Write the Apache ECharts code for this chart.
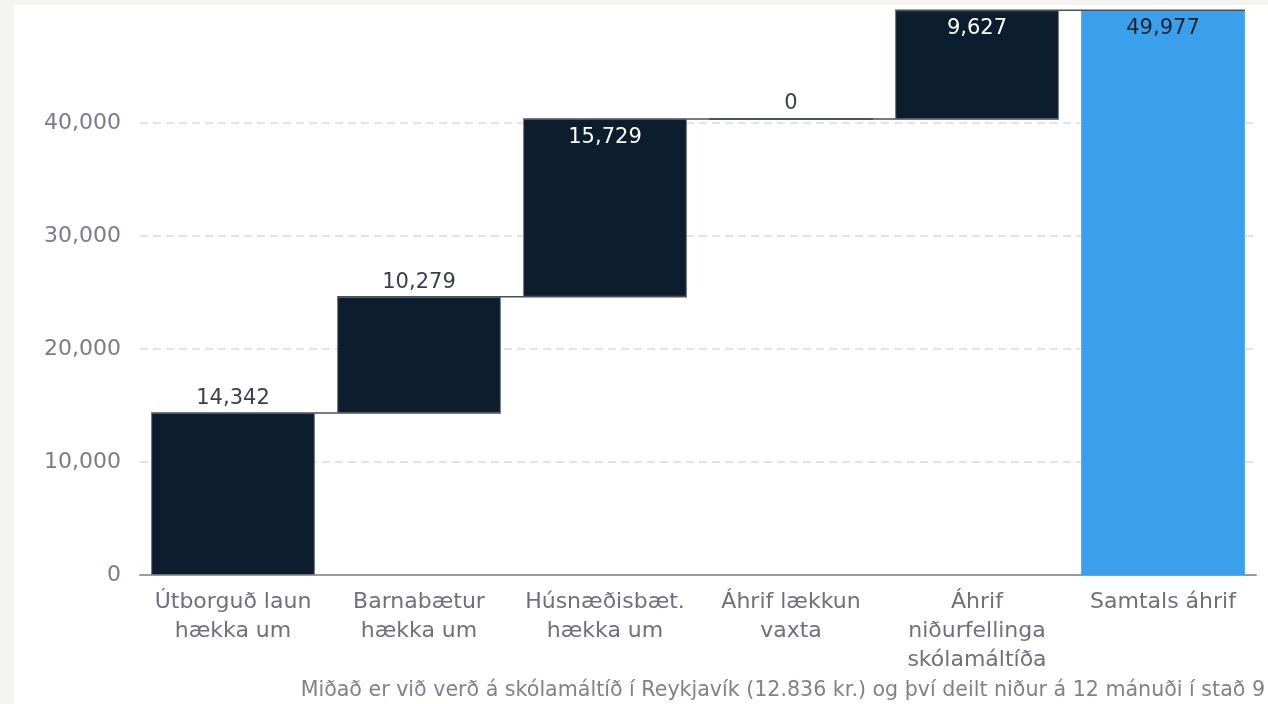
<!DOCTYPE html>
<html>
<head>
<meta charset="utf-8">
<script src="https://cdn.jsdelivr.net/npm/echarts@6/dist/echarts.min.js"></script>
<style>
html,body{margin:0;padding:0;background:#f3f3ef;}
.panel{position:absolute;left:14px;top:5px;right:0;bottom:0;background:#fff;}
#chart{position:absolute;left:0;top:0;width:1268px;height:704px;}
</style>
</head>
<body>
<div class="panel"></div>
<div id="chart"></div>
<script>
// gögn
const categories = ['Útborguð laun\nhækka um', 'Barnabætur\nhækka um', 'Húsnæðisbæt.\nhækka um', 'Áhrif lækkun\nvaxta', 'Áhrif\nniðurfellinga\nskólamáltíða', 'Samtals áhrif']
const steps = [14342, 10279, 15729, 0, 9627]
const total = 49977
const gridTicks = [10000, 20000, 30000, 40000]
const note = 'Miðað er við verð á skólamáltíð í Reykjavík (12.836 kr.) og því deilt niður á 12 mánuði í stað 9'

// uppsöfnun
let base = []
let vals = []
let levels = []
let run = 0
for (let i = 0; i < steps.length; i++) {
  base.push(run)
  vals.push(steps[i])
  run += steps[i]
  levels.push([i, run])
}
base.push(0)
vals.push(total)

const FONT = 'DejaVu Sans'
const insideIdx = [2, 4, 5]
const labelColors = ['#3b3f4a', '#3b3f4a', '#ffffff', '#3b3f4a', '#ffffff', '#1c2230']

let valData = vals.map((v, i) => ({
  value: v,
  itemStyle: i === 5 ? { color: '#3aa0ec', borderWidth: 0 } : {},
  label: {
    position: insideIdx.includes(i) ? 'insideTop' : 'top',
    distance: insideIdx.includes(i) ? 8 : 4,
    color: labelColors[i]
  }
}))

let chart = echarts.init(document.getElementById('chart'))
chart.setOption({
  backgroundColor: 'transparent',
  textStyle: { fontFamily: FONT },
  grid: { left: 140, right: 12, top: 10, bottom: 129 },
  xAxis: {
    type: 'category',
    data: categories,
    axisTick: { show: false },
    axisLine: { lineStyle: { color: '#9a9aa6', width: 2 } },
    axisLabel: { color: '#6f6f80', fontSize: 22, lineHeight: 29, margin: 13, interval: 0, fontFamily: FONT }
  },
  yAxis: {
    type: 'value',
    min: 0,
    max: 50000,
    interval: 10000,
    splitLine: { show: false },
    axisLabel: {
      color: '#7b7b8b', fontSize: 22, margin: 19, showMaxLabel: false, fontFamily: FONT,
      formatter: v => v.toLocaleString('en-US')
    }
  },
  graphic: [{
    type: 'text', right: 3, top: 680,
    style: { text: note, fill: '#80808f', fontSize: 20.6, fontFamily: FONT }
  }],
  series: [
    {
      type: 'bar', stack: 'w', data: base, barWidth: '88%', z: 2, silent: true,
      itemStyle: { color: 'transparent' },
      markLine: {
        silent: true, symbol: 'none', z: 1,
        label: { show: false },
        lineStyle: { color: '#dadada', type: [8, 5], width: 1.5 },
        data: gridTicks.map(t => ({ yAxis: t }))
      }
    },
    {
      type: 'bar', stack: 'w', data: valData, barWidth: '88%', z: 3,
      itemStyle: { color: '#0c1d2e', borderColor: '#6b7080', borderWidth: 1 },
      label: {
        show: true, fontSize: 21, fontFamily: FONT,
        formatter: p => p.value.toLocaleString('en-US')
      }
    },
    {
      type: 'custom', z: 4, silent: true,
      data: levels,
      renderItem: (params, api) => {
        let i = api.value(0)
        let a = api.coord([i, api.value(1)])
        let b = api.coord([i + 1, api.value(1)])
        let bw = api.size([1, 0])[0] * 0.88
        return {
          type: 'line',
          shape: { x1: a[0] - bw / 2, y1: a[1], x2: b[0] + bw / 2, y2: b[1] },
          style: { stroke: '#4a4f5c', lineWidth: 1.5 }
        }
      }
    }
  ]
})
</script>
</body>
</html>
